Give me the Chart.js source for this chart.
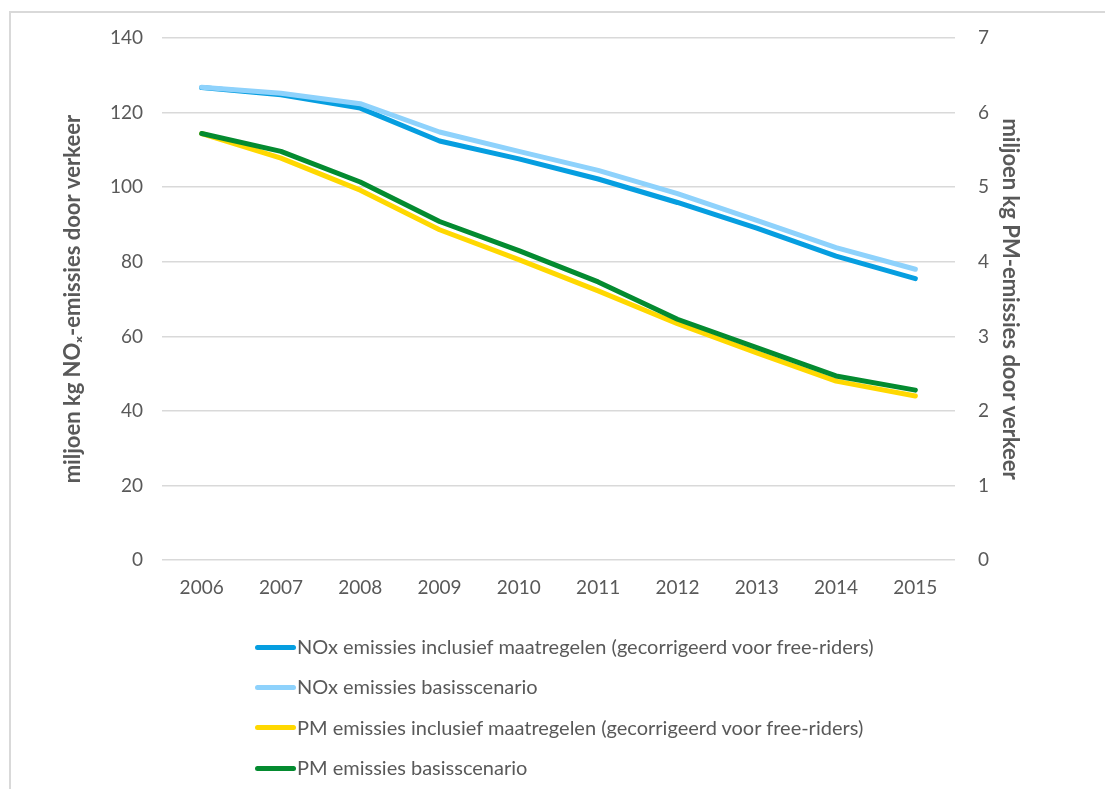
<!DOCTYPE html>
<html>
<head>
<meta charset="utf-8">
<script src="https://cdn.jsdelivr.net/npm/chart.js@4/dist/chart.umd.min.js"></script>
<style>
  html, body { margin: 0; padding: 0; background: #fff; }
  #wrap { position: relative; width: 1105px; height: 789px; overflow: hidden; }
  #frame { position: absolute; left: 9px; top: 11px; width: 1200px; height: 900px;
           border-left: 2px solid #d9d9d9; border-top: 2px solid #d9d9d9; }
  #chart-box { position: absolute; left: 0; top: 0; width: 1105px; height: 789px; }
  #legend { position: absolute; left: 255px; top: 627px; font-family: Lato, sans-serif;
            font-size: 20px; color: #595959; }
  #legend .item { display: flex; align-items: center; height: 40.3px; }
  #legend .swatch { width: 41px; height: 5px; border-radius: 3px; margin-right: 1px; }
  #legend .item span { line-height: 24px; position: relative; top: -1px; }
</style>
</head>
<body>
<div id="wrap">
  <div id="frame"></div>
  <div id="chart-box"><canvas id="chart-area"></canvas></div>
  <div id="legend"></div>
</div>
<script>
var years = ['2006', '2007', '2008', '2009', '2010', '2011', '2012', '2013', '2014', '2015'];

// miljoen kg NOx (left axis)
var noxMaatregelen = [126.7, 124.8, 121.2, 112.4, 107.6, 102.2, 95.9, 89.0, 81.5, 75.5];
var noxBasis = [126.8, 125.2, 122.4, 114.8, 109.6, 104.5, 98.3, 91.1, 83.8, 78.0];

// miljoen kg PM (right axis)
var pmMaatregelen = [5.72, 5.39, 4.96, 4.43, 4.03, 3.61, 3.17, 2.78, 2.40, 2.20];
var pmBasis = [5.72, 5.48, 5.07, 4.54, 4.15, 3.73, 3.23, 2.85, 2.47, 2.28];

var seriesLabels = [
  'NOx emissies inclusief maatregelen (gecorrigeerd voor free-riders)',
  'NOx emissies basisscenario',
  'PM emissies inclusief maatregelen (gecorrigeerd voor free-riders)',
  'PM emissies basisscenario'
];
var seriesColors = ['#069ee0', '#8ed2fc', '#ffd800', '#048b30'];

var textColor = '#595959';
var gridColor = '#d9d9d9';

function line(i, data, axis) {
  return {
    label: seriesLabels[i],
    data: data,
    yAxisID: axis,
    borderColor: seriesColors[i],
    backgroundColor: seriesColors[i],
    borderWidth: 5,
    borderCapStyle: 'round',
    borderJoinStyle: 'round',
    pointRadius: 0,
    tension: 0,
    fill: false,
    order: 4 - i
  };
}

var config = {
  type: 'line',
  data: {
    labels: years,
    datasets: [
      line(0, noxMaatregelen, 'yNox'),
      line(1, noxBasis, 'yNox'),
      line(2, pmMaatregelen, 'yPm'),
      line(3, pmBasis, 'yPm')
    ]
  },
  options: {
    responsive: true,
    maintainAspectRatio: false,
    animation: false,
    layout: {
      padding: { left: 56, right: 78, top: 38, bottom: 174 }
    },
    plugins: {
      legend: { display: false },
      tooltip: { enabled: false }
    },
    scales: {
      x: {
        offset: true,
        grid: { display: false, drawTicks: false },
        border: { display: false },
        ticks: {
          color: textColor,
          padding: 16,
          font: { family: 'Lato', size: 19 }
        }
      },
      yNox: {
        position: 'left',
        min: 0,
        max: 140,
        afterFit: function(scale) { scale.width = 106; },
        grid: { color: gridColor, lineWidth: 1.5, drawTicks: false },
        border: { display: false },
        ticks: {
          stepSize: 20,
          color: textColor,
          padding: 19,
          font: { family: 'Lato', size: 19 }
        },
        title: {
          display: true,
          text: 'miljoen kg NOₓ-emissies door verkeer',
          color: textColor,
          padding: { top: 4, bottom: 4 },
          font: { family: 'Lato', size: 22, weight: 'bold' }
        }
      },
      yPm: {
        position: 'right',
        min: 0,
        max: 7,
        afterFit: function(scale) { scale.width = 72; },
        grid: { display: false, drawTicks: false },
        border: { display: false },
        ticks: {
          stepSize: 1,
          color: textColor,
          padding: 23,
          font: { family: 'Lato', size: 19 }
        },
        title: {
          display: true,
          text: 'miljoen kg PM-emissies door verkeer',
          color: textColor,
          padding: { top: 4, bottom: 4 },
          font: { family: 'Lato', size: 22, weight: 'bold' }
        }
      }
    }
  }
};

function buildLegend() {
  var box = document.getElementById('legend');
  config.data.datasets.forEach(function(ds) {
    var item = document.createElement('div');
    item.className = 'item';
    var sw = document.createElement('div');
    sw.className = 'swatch';
    sw.style.background = ds.borderColor;
    var txt = document.createElement('span');
    txt.textContent = ds.label;
    item.appendChild(sw);
    item.appendChild(txt);
    box.appendChild(item);
  });
}

window.onload = function() {
  var ctx = document.getElementById('chart-area').getContext('2d');
  window.myLine = new Chart(ctx, config);
  buildLegend();
};
</script>
</body>
</html>
